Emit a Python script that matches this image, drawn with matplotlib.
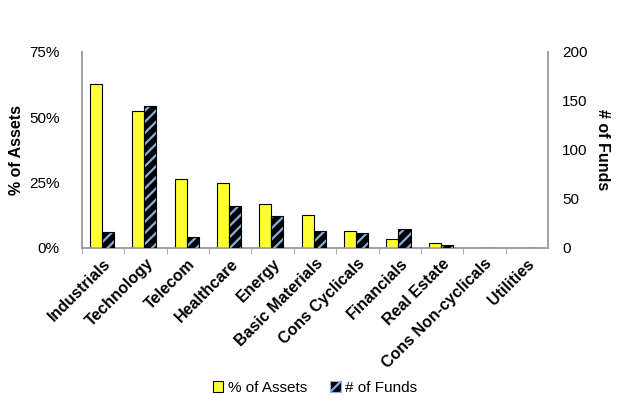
import matplotlib
matplotlib.use("Agg")
import matplotlib.pyplot as plt
import numpy as np
from matplotlib.patches import Patch

categories = ["Industrials", "Technology", "Telecom", "Healthcare", "Energy",
              "Basic Materials", "Cons Cyclicals", "Financials", "Real Estate",
              "Cons Non-cyclicals", "Utilities"]
pct_assets = [62.8, 52.5, 26.3, 25.0, 16.7, 12.7, 6.5, 3.3, 1.8, 0.0, 0.0]
num_funds = [16, 145, 11, 43, 33, 17, 15, 19, 3, 0, 0]

plt.rcParams['font.family'] = ['Liberation Sans', 'DejaVu Sans']
plt.rcParams['hatch.linewidth'] = 1.6

fig = plt.figure(figsize=(6.3, 4.05), dpi=100)
ax = fig.add_axes([0.130, 0.388, 0.740, 0.484])
ax2 = ax.twinx()

x = np.arange(len(categories))
w = 0.285
yellow = '#ffff33'
hatch_col = '#86aee0'

ax.bar(x - w / 2 - 0.03, pct_assets, width=w, color=yellow, edgecolor='black', linewidth=0.8, zorder=3)
ax2.bar(x + w / 2 - 0.03, num_funds, width=w, color='black', edgecolor=hatch_col, hatch='///', linewidth=0, zorder=3)
ax2.bar(x + w / 2 - 0.03, num_funds, width=w, color='none', edgecolor='black', linewidth=0.8, zorder=4)

ax.set_xlim(-0.5, len(categories) - 0.5)
ax.set_ylim(0, 75)
ax2.set_ylim(0, 200)
ax.set_yticks([0, 25, 50, 75])
ax.set_yticklabels(['0%', '25%', '50%', '75%'], fontsize=11)
ax2.set_yticks([0, 50, 100, 150, 200])
ax2.set_yticklabels(['0', '50', '100', '150', '200'], fontsize=11)

ax.set_xticks(x - 0.5, minor=True)
ax.set_xticks(x)
ax.set_xticklabels(categories, rotation=45, ha='right', rotation_mode='anchor',
                   fontsize=11.5, fontweight='bold')
ax.tick_params(axis='x', which='major', length=0, pad=6)
ax.tick_params(axis='x', which='minor', length=4, color='#a0a0a0', direction='out')
ax.tick_params(axis='y', length=0, pad=16)
ax2.tick_params(axis='y', length=0, pad=10)

for a in (ax, ax2):
    a.spines['top'].set_visible(False)
    for s in ('left', 'right', 'bottom'):
        a.spines[s].set_color('#a0a0a0')
        a.spines[s].set_linewidth(1.2)

ax.set_ylabel('% of Assets', fontsize=11.5, fontweight='bold', labelpad=4)
ax2.set_ylabel('# of Funds', fontsize=11.5, fontweight='bold', rotation=270, labelpad=16)

handles = [Patch(facecolor=yellow, edgecolor='black', linewidth=0.8, label='% of Assets'),
           Patch(facecolor='black', edgecolor=hatch_col, hatch='///', linewidth=0.8, label='# of Funds')]
fig.legend(handles=handles, loc='center', bbox_to_anchor=(0.5, 0.043), ncol=2, frameon=False,
           fontsize=11, handlelength=0.7, handleheight=0.7, handletextpad=0.3, columnspacing=1.5)

fig.savefig('out.png', dpi=100)
